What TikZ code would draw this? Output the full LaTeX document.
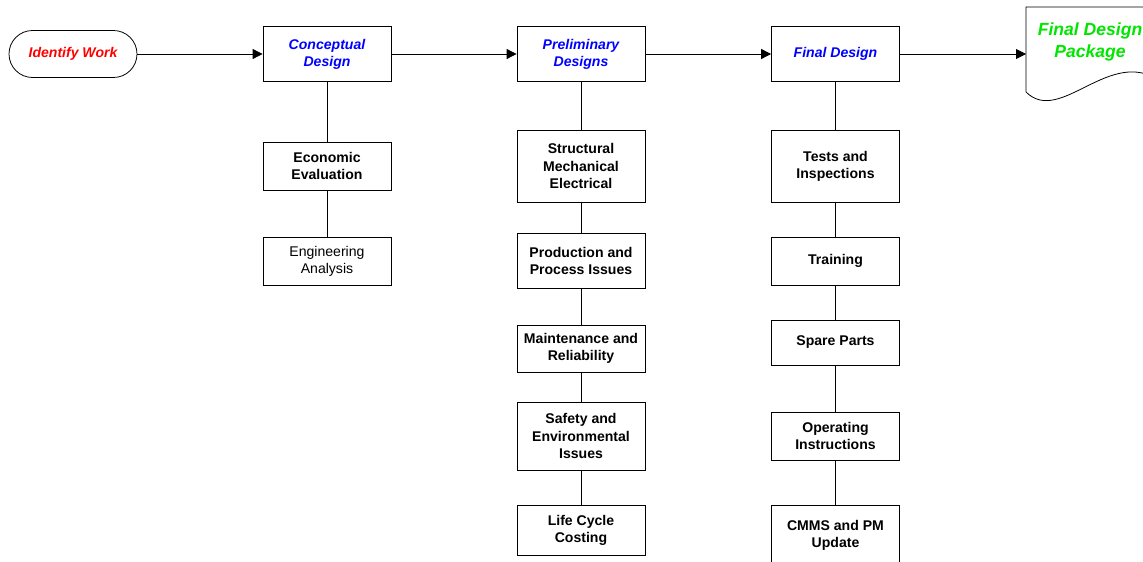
\documentclass[tikz,border=0pt]{standalone}
\usepackage{fontspec}
\setmainfont{Liberation Sans}
\usetikzlibrary{arrows.meta}
\definecolor{workred}{RGB}{255,0,0}
\definecolor{stepblue}{RGB}{0,0,255}
\definecolor{pkggreen}{RGB}{0,230,0}
\begin{document}
\begin{tikzpicture}[>={Triangle[length=0.2cm,width=0.2cm]}, line width=0.45pt,
	box/.style={draw, rectangle, minimum width=2.56cm, align=center, inner sep=1pt,
		font=\fontsize{8}{9.7}\selectfont\bfseries},
	plainbox/.style={box, font=\fontsize{8}{9.7}\selectfont},
	stage/.style={box, minimum height=1.1cm, text=stepblue, font=\fontsize{8}{9.7}\selectfont\bfseries\itshape}]
			\useasboundingbox (0,0) rectangle (22.86,11.22);
			\node	(work) at (1.46,10.14) [draw, rectangle, rounded corners=0.47cm, minimum width=2.56cm, minimum height=0.94cm, text=workred, font=\fontsize{8}{9.7}\selectfont\bfseries\itshape] {Identify Work};
			\node	(concept) at (6.54,10.14) [stage] {Conceptual\\Design};
			\node	(prelim) at (11.62,10.14) [stage] {Preliminary\\Designs};
			\node	(final) at (16.71,10.14) [stage] {Final Design};
			% final design package (document shape)
			\draw (20.52,9.38) -- (20.52,11.08) -- (23.2,11.08) -- (23.2,9.6)
				.. controls (22.2,10.3) and (21.2,8.7) .. (20.52,9.38);
			\coordinate (pkgin) at (20.52,10.14);
			\node	(pkg) at (21.8,10.38) [align=center, text=pkggreen, font=\fontsize{10}{12}\selectfont\bfseries\itshape] {Final Design\\Package};
			% conceptual design
			\node	(econ) at (6.54,7.9) [box, minimum height=0.96cm] {Economic\\Evaluation};
			\node	(eng) at (6.54,6.0) [plainbox, minimum height=0.96cm] {Engineering\\Analysis};
			% preliminary designs
			\node	(struct) at (11.62,7.9) [box, minimum height=1.44cm] {Structural\\Mechanical\\Electrical};
			\node	(prod) at (11.62,6.01) [box, minimum height=1.1cm] {Production and\\Process Issues};
			\node	(maint) at (11.62,4.25) [box, minimum height=0.94cm] {Maintenance and\\Reliability};
			\node	(safety) at (11.62,2.5) [box, minimum height=1.36cm] {Safety and\\Environmental\\Issues};
			\node	(life) at (11.62,0.62) [box, minimum height=1.0cm] {Life Cycle\\Costing};
			% final design
			\node	(tests) at (16.71,7.9) [box, minimum height=1.44cm] {Tests and\\Inspections};
			\node	(train) at (16.71,6.0) [box, minimum height=0.96cm] {Training};
			\node	(spare) at (16.71,4.37) [box, minimum height=0.9cm] {Spare Parts};
			\node	(oper) at (16.71,2.5) [box, minimum height=0.96cm] {Operating\\Instructions};
			\node	(cmms) at (16.71,0.52) [box, minimum height=1.2cm] {CMMS and PM\\Update};
			\draw 
			(work) edge[->] (concept)
			(concept) edge[->] (prelim)
			(prelim) edge[->] (final)
			(final) edge[->] (pkgin)
			(concept) edge (econ)
			(econ) edge (eng)
			(prelim) edge (struct)
			(struct) edge (prod)
			(prod) edge (maint)
			(maint) edge (safety)
			(safety) edge (life)
			(final) edge (tests)
			(tests) edge (train)
			(train) edge (spare)
			(spare) edge (oper)
			(oper) edge (cmms)
			;
		\end{tikzpicture}
\end{document}
